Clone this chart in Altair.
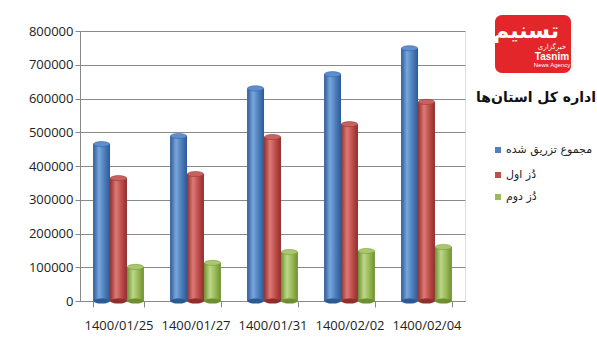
import altair as alt
import pandas as pd

dates = ["1400/01/25", "1400/01/27", "1400/01/31", "1400/02/02", "1400/02/04"]
series_names = ["مجموع تزریق شده", "دُز اول", "دُز دوم"]
total = [465000, 489000, 630000, 672000, 749000]
first_dose = [364000, 376000, 486000, 524000, 590000]
second_dose = [101000, 113000, 145000, 148000, 160000]
y_ticks = [0, 100000, 200000, 300000, 400000, 500000, 600000, 700000, 800000]
title_text = "اداره کل استان‌ها"

rows = []
for vals, name in zip([total, first_dose, second_dose], series_names):
    for d, v in zip(dates, vals):
        rows.append({"date": d, "series": name, "value": v})
df = pd.DataFrame(rows)

base_colors = ["#4F81BD", "#C0504D", "#9BBB59"]
dark = ["#2c5a94", "#8f2e2b", "#6d8f2f"]
light = ["#7aa6dd", "#dd7a77", "#bcd88a"]
top_col = ["#5d8fd0", "#c9625f", "#a9c76c"]

x_enc = alt.X("date:N", sort=dates, title=None,
              scale=alt.Scale(paddingInner=0.34, paddingOuter=0.17),
              axis=alt.Axis(labelAngle=0, labelFontSize=13, labelFont="Open Sans",
                            labelColor="#222", labelPadding=12, tickBand="extent",
                            tickColor="#888", domainColor="#888", tickSize=6, grid=False))
y_scale = alt.Scale(domain=[0, 800000], nice=False)
y_axis = alt.Axis(values=y_ticks, format="d", labelFontSize=13, labelFont="Open Sans",
                  labelColor="#222", labelPadding=2, tickSize=5, tickColor="#888",
                  labelOverlap=False, domainColor="#888", gridColor="#8a8a8a", gridWidth=1)
y_enc = alt.Y("value:Q", title=None, scale=y_scale, axis=y_axis)
xo = alt.XOffset("series:N", sort=series_names,
                 scale=alt.Scale(domain=series_names, paddingInner=0, paddingOuter=0))

ellipse = "M-1,0 A1,0.32 0 1,1 1,0 A1,0.32 0 1,1 -1,0 Z"

base = alt.Chart(df)
bottoms, bars_l, tops = [], [], []
for i, name in enumerate(series_names):
    grad = alt.Gradient(gradient="linear", x1=0, x2=1, y1=0, y2=0,
                        stops=[alt.GradientStop(color=dark[i], offset=0),
                               alt.GradientStop(color=light[i], offset=0.35),
                               alt.GradientStop(color=base_colors[i], offset=0.65),
                               alt.GradientStop(color=dark[i], offset=1)])
    sub = base.transform_filter(alt.datum.series == name)
    bars_l.append(sub.mark_bar(color=grad).encode(x=x_enc, xOffset=xo, y=y_enc))
    bottoms.append(sub.mark_point(shape=ellipse, filled=True, size=260, opacity=1,
                                  color=dark[i]).encode(
        x=x_enc, xOffset=xo, y=alt.Y(datum=0, title=None, scale=y_scale, axis=y_axis)))
    tops.append(sub.mark_point(shape=ellipse, filled=True, size=260, opacity=1,
                               color=top_col[i], stroke=dark[i], strokeWidth=0.5).encode(
        x=x_enc, xOffset=xo, y=y_enc))

one = pd.DataFrame({"k": [0]})
deco = alt.Chart(one)

# logo
logo = deco.mark_rect(color="#e3262a", cornerRadius=7).encode(
    x=alt.value(415), x2=alt.value(491), y=alt.value(-16), y2=alt.value(42))
logo_t1 = deco.mark_text(text="تسنیم", color="white", fontSize=22, fontWeight="bold",
                         font="DejaVu Sans", align="center", baseline="middle").encode(
    x=alt.value(446), y=alt.value(0))
logo_t2 = deco.mark_text(text="خبرگزاری", color="white", fontSize=7, font="DejaVu Sans",
                         align="center", baseline="middle").encode(x=alt.value(472), y=alt.value(16))
logo_t3 = deco.mark_text(text="Tasnim", color="white", fontSize=10, fontWeight="bold",
                         font="Liberation Sans", align="center", baseline="middle").encode(
    x=alt.value(472), y=alt.value(26))
logo_t4 = deco.mark_text(text="News Agency", color="white", fontSize=6,
                         font="Liberation Sans", align="center", baseline="middle").encode(
    x=alt.value(472), y=alt.value(34))
title = deco.mark_text(text=title_text, color="#111", fontSize=14, fontWeight="bold",
                       font="DejaVu Sans", align="center", baseline="middle").encode(
    x=alt.value(456), y=alt.value(67))

legend_layers = []
for i, name in enumerate(series_names):
    yy = 119 + [0, 25, 47][i]
    legend_layers.append(deco.mark_rect(color=base_colors[i]).encode(
        x=alt.value(415), x2=alt.value(421), y=alt.value(yy - 3), y2=alt.value(yy + 3)))
    legend_layers.append(deco.mark_text(text=name, color="#222", fontSize=11,
                                        font="DejaVu Sans", align="left", baseline="middle").encode(
        x=alt.value(426), y=alt.value(yy)))

chart = alt.layer(*bars_l, *bottoms, *tops, logo, logo_t1, logo_t2, logo_t3, logo_t4, title,
                  *legend_layers).properties(
    width=385, height=270,
    autosize=alt.AutoSizeParams(type="none"),
    padding={"left": 80, "top": 31, "right": 132, "bottom": 45},
).configure_view(stroke=None).configure(background="white")

chart.save("out.html", embed_options={"renderer": "svg", "actions": False})
